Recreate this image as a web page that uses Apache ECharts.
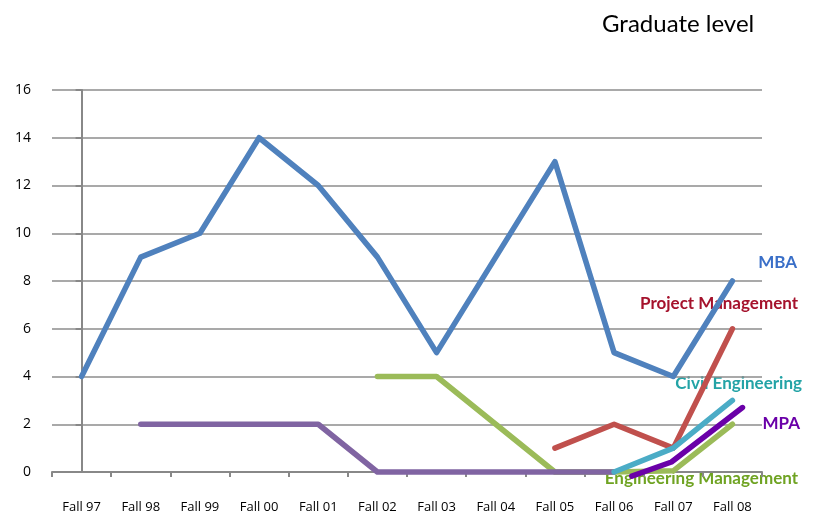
<!DOCTYPE html>
<html>
<head>
<meta charset="utf-8">
<script src="https://cdn.jsdelivr.net/npm/echarts@6/dist/echarts.min.js"></script>
<style>html,body{margin:0;padding:0;background:#fff}#c{width:818px;height:515px}</style>
</head>
<body>
<div id="c"></div>
<script>
const categories = ['Fall 97','Fall 98','Fall 99','Fall 00','Fall 01','Fall 02','Fall 03','Fall 04','Fall 05','Fall 06','Fall 07','Fall 08'];
const yTicks = [0, 2, 4, 6, 8, 10, 12, 14, 16];
const mba = [4, 9, 10, 14, 12, 9, 5, 9, 13, 5, 4, 8];
const mpaOld = [null, 2, 2, 2, 2, 0, 0, 0, 0, 0, null, null];
const engMgmt = [null, null, null, null, null, 4, 4, 2, 0, 0, 0.05, 2];
const projMgmt = [null, null, null, null, null, null, null, null, 1, 2, 1, 6];
const civilEng = [null, null, null, null, null, null, null, null, null, 0, 1, 3];
// MPA overlay line drawn slightly off the category centres: [category position, value]
const mpa = [[9.3, -0.17], [9.97, 0.42], [11.17, 2.7]];

const chart = echarts.init(document.getElementById('c'));
const lw = 5.5;
function line(name, data, color, extra) {
  return Object.assign({
    name: name, type: 'line', data: data, symbol: 'none',
    lineStyle: { color: color, width: lw, cap: 'round', join: 'round' },
    itemStyle: { color: color }, connectNulls: false, clip: false, silent: true
  }, extra || {});
}
const labelFont = { fontFamily: 'Lato', fontWeight: 'bold', fontSize: 17 };
function lbl(text, right, top, color) {
  return { type: 'text', right: right, top: top, style: Object.assign({ text: text, fill: color }, labelFont) };
}
chart.setOption({
  animation: false,
  title: {
    text: 'Graduate level', left: 597, top: 7,
    textStyle: { fontFamily: 'Lato', fontWeight: 'normal', fontSize: 24, color: '#000' }
  },
  grid: { left: 52, top: 90, right: 56, bottom: 43 },
  xAxis: [{
    type: 'category', data: categories, boundaryGap: true,
    axisLine: { lineStyle: { color: '#888', width: 2 } },
    axisTick: { show: true, length: 5, lineStyle: { color: '#888', width: 2 } },
    axisLabel: { color: '#000', fontFamily: 'Open Sans', fontSize: 13, margin: 29 },
    splitLine: { show: false }
  }, {
    type: 'value', min: -0.5, max: 11.5, show: false
  }],
  yAxis: {
    type: 'value', min: 0, max: 16, interval: 2,
    axisLine: { show: true, lineStyle: { color: '#888', width: 2 } },
    axisTick: { show: true, length: 6, lineStyle: { color: '#888', width: 2 } },
    axisLabel: { color: '#000', fontFamily: 'Open Sans', fontSize: 14, margin: 21,
      formatter: v => yTicks.includes(v) ? String(v) : '' },
    splitLine: { lineStyle: { color: '#8c8c8c', width: 1.5 } }
  },
  series: [
    line('MBA', mba, '#4f81bd'),
    line('Engineering Management', engMgmt, '#9bbb59'),
    line('MPA (earlier)', mpaOld, '#8064a2'),
    line('Project Management', projMgmt, '#c0504d'),
    line('Civil Engineering', civilEng, '#4bacc6'),
    line('MPA', mpa, '#6a00a8', { xAxisIndex: 1 })
  ],
  graphic: [
    lbl('MBA', 21, 254, '#3a6fc8'),
    lbl('Project Management', 20, 295, '#a5122c'),
    lbl('Civil Engineering', 16, 375, '#23a3a6'),
    lbl('MPA', 18, 415, '#6a00a8'),
    lbl('Engineering Management', 20, 470, '#6fa322')
  ]
});
</script>
</body>
</html>
